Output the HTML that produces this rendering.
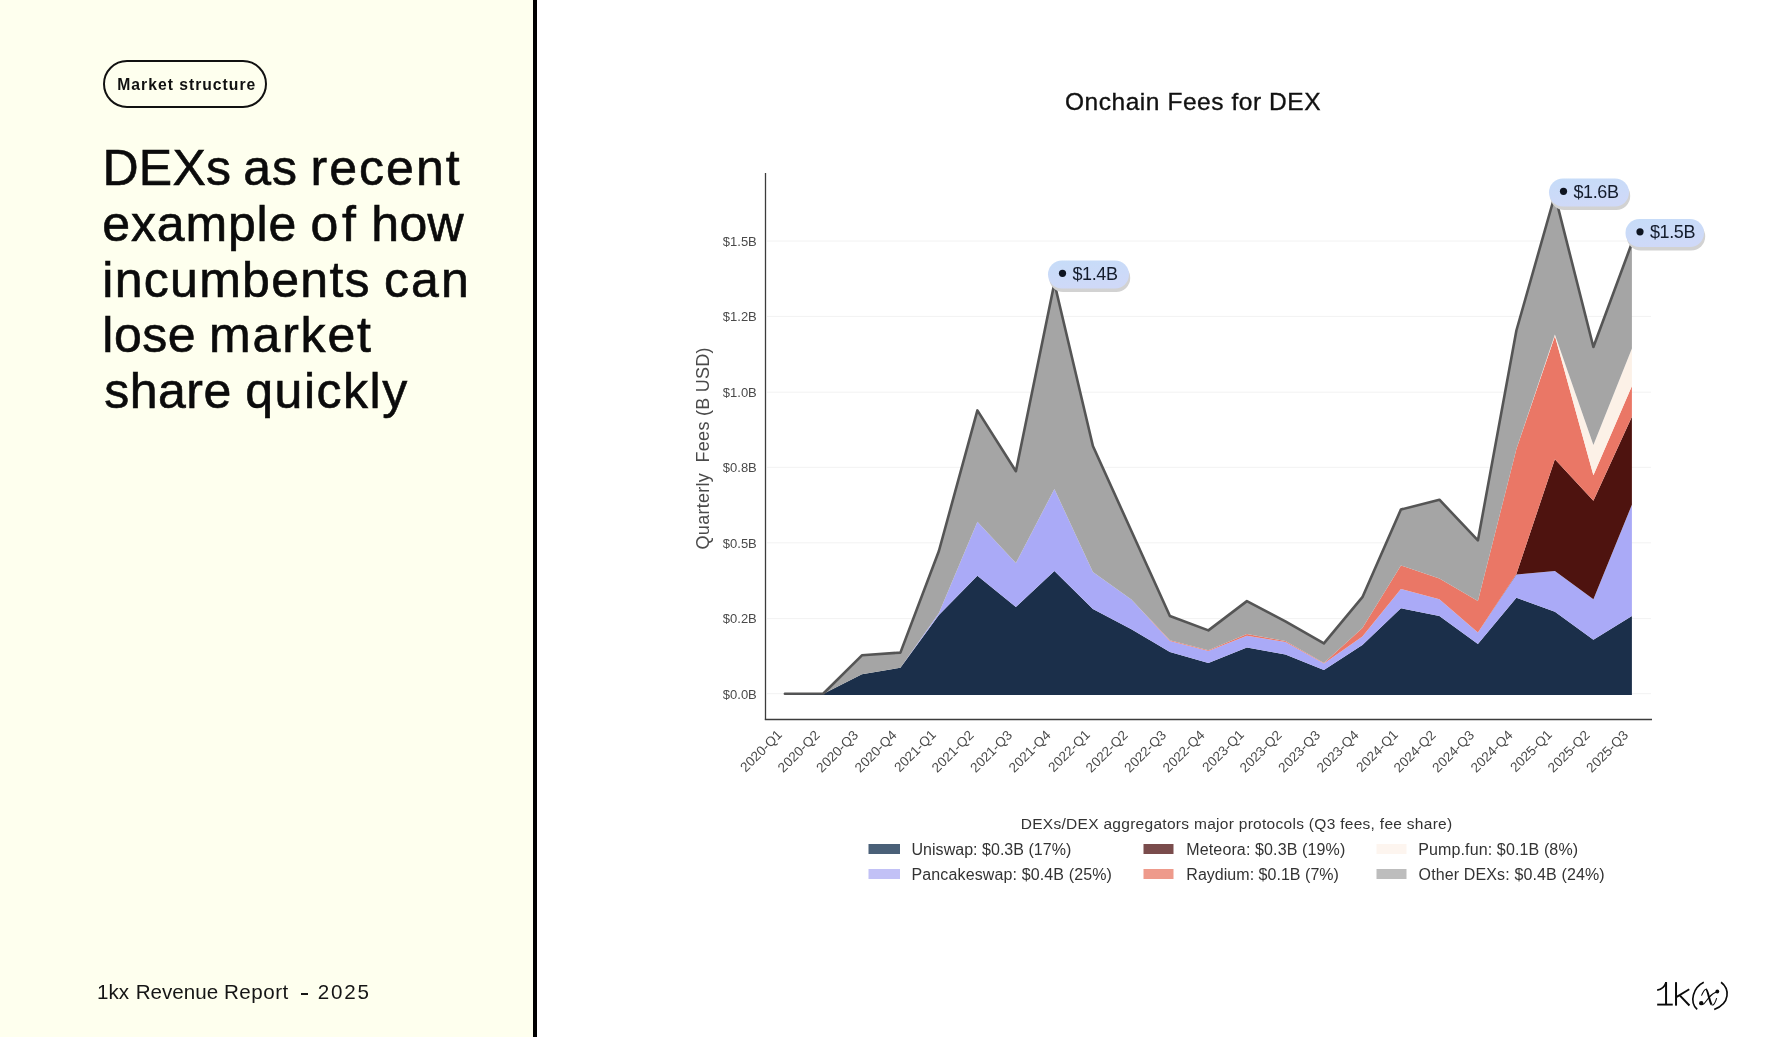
<!DOCTYPE html>
<html><head><meta charset="utf-8"><style>
*{margin:0;padding:0;box-sizing:border-box}
html,body{width:1780px;height:1060px;background:#fff;overflow:hidden;position:relative;font-family:"Liberation Sans",sans-serif}
#left{position:absolute;left:0;top:0;width:533px;height:1037px;background:#feffee}
#bar{position:absolute;left:533px;top:0;width:4px;height:1037px;background:#000}
#badge{will-change:transform;position:absolute;left:102.6px;top:60.3px;width:164.3px;height:47.8px;border:2px solid #111;border-radius:24px;font-weight:bold;font-size:15.7px;letter-spacing:1.0px;color:#111;line-height:43.8px;padding-top:1px;padding-left:12.3px}
#head{will-change:transform;position:absolute;left:0;top:0;width:533px;height:500px;font-size:50px;line-height:55.7px;color:#0b0b0b;-webkit-text-stroke:0.6px #0b0b0b}
#head span{position:absolute;white-space:pre}
#foot{position:absolute;left:96.6px;top:979.5px;font-size:20.6px;color:#151515;white-space:pre;will-change:transform;width:300px;height:30px}
#foot span{position:absolute;top:0}
#foot .dash{left:203.6px;top:13.3px;width:7.3px;height:1.7px;background:#151515}
</style></head><body>
<div id="left"></div>
<div id="bar"></div>
<div id="badge">Market structure</div>
<div id="head"><span style="left:102.4px;top:141.3px;letter-spacing:0.267px">DEXs</span><span style="left:243.2px;top:141.3px;letter-spacing:1.1px">as</span><span style="left:310.5px;top:141.3px;letter-spacing:2.04px">recent</span><span style="left:102.3px;top:197.0px;letter-spacing:0.833px">example</span><span style="left:310.4px;top:197.0px;letter-spacing:3.8px">of</span><span style="left:371.3px;top:197.0px;letter-spacing:0.35px">how</span><span style="left:102.3px;top:252.7px;letter-spacing:1.289px">incumbents</span><span style="left:384.1px;top:252.7px;letter-spacing:2.0px">can</span><span style="left:102.3px;top:308.4px;letter-spacing:0.533px">lose</span><span style="left:209.1px;top:308.4px;letter-spacing:1.8px">market</span><span style="left:104.3px;top:364.1px;letter-spacing:0.475px">share</span><span style="left:245.3px;top:364.1px;letter-spacing:1.517px">quickly</span></div>
<div id="foot"><span style="left:0">1kx</span><span style="left:38.7px">Revenue</span><span style="left:127px;letter-spacing:0.5px">Report</span><span class="dash"></span><span style="left:220.7px;letter-spacing:1.8px">2025</span></div>
<svg width="1780" height="1060" viewBox="0 0 1780 1060" style="position:absolute;left:0;top:0;will-change:transform">
<style>
text{font-family:"Liberation Sans",sans-serif;}
.yl text{font-size:13px;fill:#4a4a4a;}
.xl text{font-size:13.5px;fill:#4a4a4a;}
.bt{font-size:18px;fill:#141c2c;letter-spacing:-0.4px}
.lg text{font-size:16px;fill:#333;letter-spacing:0.13px}
</style>
<defs><linearGradient id="bg" x1="0" y1="0" x2="0.3" y2="1"><stop offset="0" stop-color="#c6dcf8"/><stop offset="1" stop-color="#cfd9f8"/></linearGradient><filter id="bl" x="-10%" y="-20%" width="120%" height="140%"><feGaussianBlur stdDeviation="0.7"/></filter></defs>
<text x="1193" y="110" text-anchor="middle" style="font-size:24.5px;fill:#111;stroke:#111;stroke-width:0.35px;letter-spacing:0.55px">Onchain Fees for DEX</text>
<line x1="767" x2="1651" y1="241.0" y2="241.0" stroke="#f2f2f2" stroke-width="1"/>
<line x1="767" x2="1651" y1="316.4" y2="316.4" stroke="#f2f2f2" stroke-width="1"/>
<line x1="767" x2="1651" y1="392.2" y2="392.2" stroke="#f2f2f2" stroke-width="1"/>
<line x1="767" x2="1651" y1="467.3" y2="467.3" stroke="#f2f2f2" stroke-width="1"/>
<line x1="767" x2="1651" y1="542.8" y2="542.8" stroke="#f2f2f2" stroke-width="1"/>
<line x1="767" x2="1651" y1="618.6" y2="618.6" stroke="#f2f2f2" stroke-width="1"/>
<line x1="767" x2="1651" y1="693.7" y2="693.7" stroke="#f2f2f2" stroke-width="1"/>
<g><polygon points="784.9,694.0 823.4,693.8 861.9,674.3 900.4,667.7 938.9,615.0 977.4,575.7 1015.9,607.0 1054.4,571.0 1092.9,609.0 1131.4,629.3 1169.9,652.0 1208.4,663.1 1246.9,647.4 1285.4,654.4 1323.9,669.9 1362.4,645.0 1400.9,608.2 1439.4,615.9 1477.9,643.9 1516.4,597.8 1554.9,611.7 1593.4,639.8 1631.9,615.9 1631.9,695.0 1593.4,695.0 1554.9,695.0 1516.4,695.0 1477.9,695.0 1439.4,695.0 1400.9,695.0 1362.4,695.0 1323.9,695.0 1285.4,695.0 1246.9,695.0 1208.4,695.0 1169.9,695.0 1131.4,695.0 1092.9,695.0 1054.4,695.0 1015.9,695.0 977.4,695.0 938.9,695.0 900.4,695.0 861.9,695.0 823.4,695.0 784.9,695.0" fill="#1b2f4a"/>
<polygon points="784.9,694.0 823.4,693.8 861.9,674.3 900.4,667.7 938.9,613.0 977.4,521.7 1015.9,563.0 1054.4,489.0 1092.9,572.0 1131.4,599.5 1169.9,641.0 1208.4,651.0 1246.9,635.8 1285.4,642.0 1323.9,663.5 1362.4,636.5 1400.9,589.0 1439.4,599.3 1477.9,632.5 1516.4,574.4 1554.9,570.9 1593.4,599.3 1631.9,504.7 1631.9,615.9 1593.4,639.8 1554.9,611.7 1516.4,597.8 1477.9,643.9 1439.4,615.9 1400.9,608.2 1362.4,645.0 1323.9,669.9 1285.4,654.4 1246.9,647.4 1208.4,663.1 1169.9,652.0 1131.4,629.3 1092.9,609.0 1054.4,571.0 1015.9,607.0 977.4,575.7 938.9,615.0 900.4,667.7 861.9,674.3 823.4,693.8 784.9,694.0" fill="#aaaaf7"/>
<polygon points="784.9,694.0 823.4,693.8 861.9,674.3 900.4,667.7 938.9,613.0 977.4,521.7 1015.9,563.0 1054.4,489.0 1092.9,572.0 1131.4,599.5 1169.9,641.0 1208.4,651.0 1246.9,635.8 1285.4,642.0 1323.9,663.5 1362.4,636.5 1400.9,589.0 1439.4,599.3 1477.9,632.5 1516.4,574.0 1554.9,459.2 1593.4,500.8 1631.9,416.8 1631.9,504.7 1593.4,599.3 1554.9,570.9 1516.4,574.4 1477.9,632.5 1439.4,599.3 1400.9,589.0 1362.4,636.5 1323.9,663.5 1285.4,642.0 1246.9,635.8 1208.4,651.0 1169.9,641.0 1131.4,599.5 1092.9,572.0 1054.4,489.0 1015.9,563.0 977.4,521.7 938.9,613.0 900.4,667.7 861.9,674.3 823.4,693.8 784.9,694.0" fill="#4e130f"/>
<polygon points="784.9,694.0 823.4,693.8 861.9,674.3 900.4,667.7 938.9,613.0 977.4,521.7 1015.9,563.0 1054.4,489.0 1092.9,572.0 1131.4,599.5 1169.9,640.3 1208.4,650.3 1246.9,633.9 1285.4,641.0 1323.9,663.0 1362.4,628.0 1400.9,565.5 1439.4,578.6 1477.9,601.0 1516.4,449.0 1554.9,336.0 1593.4,475.3 1631.9,386.0 1631.9,416.8 1593.4,500.8 1554.9,459.2 1516.4,574.0 1477.9,632.5 1439.4,599.3 1400.9,589.0 1362.4,636.5 1323.9,663.5 1285.4,642.0 1246.9,635.8 1208.4,651.0 1169.9,641.0 1131.4,599.5 1092.9,572.0 1054.4,489.0 1015.9,563.0 977.4,521.7 938.9,613.0 900.4,667.7 861.9,674.3 823.4,693.8 784.9,694.0" fill="#ea7766"/>
<polygon points="784.9,694.0 823.4,693.8 861.9,674.3 900.4,667.7 938.9,613.0 977.4,521.7 1015.9,563.0 1054.4,489.0 1092.9,572.0 1131.4,599.5 1169.9,640.3 1208.4,650.3 1246.9,633.9 1285.4,641.0 1323.9,663.0 1362.4,628.0 1400.9,565.5 1439.4,578.6 1477.9,601.0 1516.4,449.0 1554.9,334.5 1593.4,445.0 1631.9,348.5 1631.9,386.0 1593.4,475.3 1554.9,336.0 1516.4,449.0 1477.9,601.0 1439.4,578.6 1400.9,565.5 1362.4,628.0 1323.9,663.0 1285.4,641.0 1246.9,633.9 1208.4,650.3 1169.9,640.3 1131.4,599.5 1092.9,572.0 1054.4,489.0 1015.9,563.0 977.4,521.7 938.9,613.0 900.4,667.7 861.9,674.3 823.4,693.8 784.9,694.0" fill="#fcf1e7"/>
<polygon points="784.9,693.8 823.4,693.5 861.9,655.3 900.4,652.6 938.9,551.0 977.4,410.4 1015.9,471.2 1054.4,283.0 1092.9,446.0 1131.4,531.0 1169.9,616.0 1208.4,630.4 1246.9,601.1 1285.4,621.3 1323.9,643.3 1362.4,597.2 1400.9,509.5 1439.4,499.7 1477.9,540.4 1516.4,330.5 1554.9,195.0 1593.4,347.0 1631.9,243.0 1631.9,348.5 1593.4,445.0 1554.9,334.5 1516.4,449.0 1477.9,601.0 1439.4,578.6 1400.9,565.5 1362.4,628.0 1323.9,663.0 1285.4,641.0 1246.9,633.9 1208.4,650.3 1169.9,640.3 1131.4,599.5 1092.9,572.0 1054.4,489.0 1015.9,563.0 977.4,521.7 938.9,613.0 900.4,667.7 861.9,674.3 823.4,693.8 784.9,694.0" fill="#a5a5a5"/></g>
<polyline points="784.9,693.8 823.4,693.5 861.9,655.3 900.4,652.6 938.9,551.0 977.4,410.4 1015.9,471.2 1054.4,283.0 1092.9,446.0 1131.4,531.0 1169.9,616.0 1208.4,630.4 1246.9,601.1 1285.4,621.3 1323.9,643.3 1362.4,597.2 1400.9,509.5 1439.4,499.7 1477.9,540.4 1516.4,330.5 1554.9,195.0 1593.4,347.0 1631.9,243.0" fill="none" stroke="#555" stroke-width="2.6" stroke-linejoin="round" stroke-linecap="round"/>
<line x1="765.5" y1="173" x2="765.5" y2="720" stroke="#3c3c3c" stroke-width="1.3"/>
<line x1="764.85" y1="719.5" x2="1652" y2="719.5" stroke="#3c3c3c" stroke-width="1.3"/>
<g class="yl"><text x="756.8" y="245.8" text-anchor="end">$1.5B</text>
<text x="756.8" y="321.2" text-anchor="end">$1.2B</text>
<text x="756.8" y="397.0" text-anchor="end">$1.0B</text>
<text x="756.8" y="472.1" text-anchor="end">$0.8B</text>
<text x="756.8" y="547.6" text-anchor="end">$0.5B</text>
<text x="756.8" y="623.4" text-anchor="end">$0.2B</text>
<text x="756.8" y="698.5" text-anchor="end">$0.0B</text></g>
<g class="xl"><text transform="translate(782.9,735.5) rotate(-45)" text-anchor="end">2020-Q1</text>
<text transform="translate(820.5,736.0) rotate(-45)" text-anchor="end">2020-Q2</text>
<text transform="translate(859.0,736.0) rotate(-45)" text-anchor="end">2020-Q3</text>
<text transform="translate(897.5,736.0) rotate(-45)" text-anchor="end">2020-Q4</text>
<text transform="translate(936.9,735.5) rotate(-45)" text-anchor="end">2021-Q1</text>
<text transform="translate(974.5,736.0) rotate(-45)" text-anchor="end">2021-Q2</text>
<text transform="translate(1013.0,736.0) rotate(-45)" text-anchor="end">2021-Q3</text>
<text transform="translate(1051.5,736.0) rotate(-45)" text-anchor="end">2021-Q4</text>
<text transform="translate(1090.9,735.5) rotate(-45)" text-anchor="end">2022-Q1</text>
<text transform="translate(1128.5,736.0) rotate(-45)" text-anchor="end">2022-Q2</text>
<text transform="translate(1167.0,736.0) rotate(-45)" text-anchor="end">2022-Q3</text>
<text transform="translate(1205.5,736.0) rotate(-45)" text-anchor="end">2022-Q4</text>
<text transform="translate(1244.9,735.5) rotate(-45)" text-anchor="end">2023-Q1</text>
<text transform="translate(1282.5,736.0) rotate(-45)" text-anchor="end">2023-Q2</text>
<text transform="translate(1321.0,736.0) rotate(-45)" text-anchor="end">2023-Q3</text>
<text transform="translate(1359.5,736.0) rotate(-45)" text-anchor="end">2023-Q4</text>
<text transform="translate(1398.9,735.5) rotate(-45)" text-anchor="end">2024-Q1</text>
<text transform="translate(1436.5,736.0) rotate(-45)" text-anchor="end">2024-Q2</text>
<text transform="translate(1475.0,736.0) rotate(-45)" text-anchor="end">2024-Q3</text>
<text transform="translate(1513.5,736.0) rotate(-45)" text-anchor="end">2024-Q4</text>
<text transform="translate(1552.9,735.5) rotate(-45)" text-anchor="end">2025-Q1</text>
<text transform="translate(1590.5,736.0) rotate(-45)" text-anchor="end">2025-Q2</text>
<text transform="translate(1629.0,736.0) rotate(-45)" text-anchor="end">2025-Q3</text></g>
<text transform="translate(709.3,448.3) rotate(-90)" text-anchor="middle" style="font-size:18px;fill:#4a4a4a;letter-spacing:0.27px">Quarterly&#160; Fees (B USD)</text>
<g>
<rect x="1049.2" y="264.0" width="81" height="28" rx="14" fill="#d2d2d2" filter="url(#bl)"/>
<rect x="1048" y="260.5" width="81" height="28" rx="14" fill="url(#bg)"/>
<circle cx="1062.5" cy="273.3" r="3.6" fill="#0e1420"/>
<text x="1072.5" y="279.5" class="bt">$1.4B</text>
</g>
<g>
<rect x="1550.2" y="182.0" width="80" height="28" rx="14" fill="#d2d2d2" filter="url(#bl)"/>
<rect x="1549" y="178.5" width="80" height="28" rx="14" fill="url(#bg)"/>
<circle cx="1563.5" cy="191.3" r="3.6" fill="#0e1420"/>
<text x="1573.5" y="197.5" class="bt">$1.6B</text>
</g>
<g>
<rect x="1626.7" y="222.5" width="78.5" height="28" rx="14" fill="#d2d2d2" filter="url(#bl)"/>
<rect x="1625.5" y="219" width="78.5" height="28" rx="14" fill="url(#bg)"/>
<circle cx="1640.0" cy="231.8" r="3.6" fill="#0e1420"/>
<text x="1650.0" y="238" class="bt">$1.5B</text>
</g>
<g class="lg">
<text x="1236.6" y="828.5" text-anchor="middle" style="font-size:15.5px;letter-spacing:0.29px">DEXs/DEX aggregators major protocols (Q3 fees, fee share)</text>
<rect x="868.5" y="844" width="31.5" height="10" fill="#4a6078"/>
<text x="911.5" y="854.5" style="letter-spacing:0.03px">Uniswap: $0.3B (17%)</text>
<rect x="868.5" y="869" width="31.5" height="10" fill="#c2c1f6"/>
<text x="911.5" y="879.5">Pancakeswap: $0.4B (25%)</text>
<rect x="1143.5" y="844" width="30" height="10" fill="#7a4c4c"/>
<text x="1186.3" y="854.5">Meteora: $0.3B (19%)</text>
<rect x="1143.5" y="869" width="30" height="10" fill="#ee9a8b"/>
<text x="1186.3" y="879.5" style="letter-spacing:0.03px">Raydium: $0.1B (7%)</text>
<rect x="1376.5" y="844" width="30" height="10" fill="#fdf5ef"/>
<text x="1418.2" y="854.5">Pump.fun: $0.1B (8%)</text>
<rect x="1376.5" y="869" width="30" height="10" fill="#bdbdbd"/>
<text x="1418.6" y="879.5">Other DEXs: $0.4B (24%)</text>
</g>
</svg>
<svg width="85" height="40" viewBox="0 0 1780 838" style="position:absolute;left:1650px;top:975px">
<g fill="none" stroke="#0a0a0a" stroke-linecap="butt">
<path d="M336,148 L336,628" stroke-width="42"/>
<path d="M150,620 L476,620" stroke-width="40"/>
<path d="M338,152 C312,235 245,302 150,318" stroke-width="36"/>
<path d="M545,150 L545,642" stroke-width="42"/>
<path d="M560,458 L822,300" stroke-width="38"/>
<path d="M628,432 L826,640" stroke-width="42"/>
<path d="M1126,152 C905,262 815,560 988,722" stroke-width="34"/>
<path d="M1488,152 C1665,285 1690,590 1345,722" stroke-width="34"/>
<path d="M1078,432 C1110,360 1140,305 1172,300" stroke-width="22"/>
<path d="M1172,300 C1210,300 1245,560 1290,622" stroke-width="42"/>
<path d="M1290,622 C1330,660 1375,560 1396,484" stroke-width="22"/>
<path d="M1405,350 C1330,372 1275,420 1238,470 L1140,592 C1120,612 1100,615 1080,600" stroke-width="22"/>
</g>
<g fill="#0a0a0a"><circle cx="1410" cy="346" r="40"/><circle cx="1074" cy="590" r="46"/></g>
</svg>
</body></html>
